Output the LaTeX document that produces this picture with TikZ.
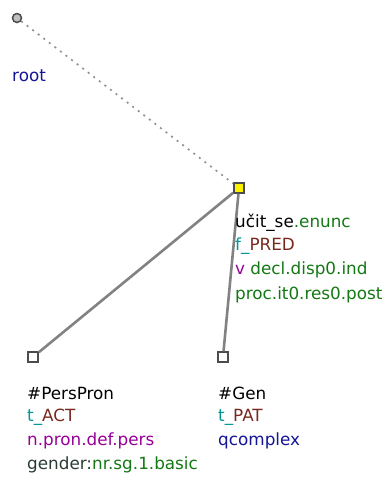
\documentclass[tikz,border=0pt]{standalone}
\usepackage{fontspec}
\setmainfont{DejaVu Sans}
\definecolor{cteal}{RGB}{0,150,150}
\definecolor{cbrown}{RGB}{120,40,30}
\definecolor{cpurple}{RGB}{150,0,150}
\definecolor{cgreen}{RGB}{20,120,20}
\definecolor{cblue}{RGB}{20,20,150}
\definecolor{cdark}{RGB}{40,60,50}
\definecolor{cedge}{RGB}{130,130,130}
\begin{document}
\begin{tikzpicture}[x=1pt,y=-1pt,
  lbl/.style={anchor=west,inner sep=0pt,font=\fontsize{16.8}{18}\selectfont},
  sq/.style={draw=black!70,line width=1.5pt,minimum size=10pt,inner sep=0pt,fill=white},
  edge/.style={draw=cedge,line width=2.6pt},
  dotedge/.style={draw=cedge!90,line width=1.6pt,dash pattern=on 2pt off 5pt}]
\useasboundingbox (0,0) rectangle (385,477);
\node[circle,draw=black!70,fill=black!25,line width=1.5pt,minimum size=9pt,inner sep=0pt] (root) at (17,18) {};
\node[sq,fill=yellow] (pred) at (239,188) {};
\node[sq] (act) at (33,357) {};
\node[sq] (pat) at (223,357) {};
\draw[dotedge] (root) -- (pred);
\draw[edge] (pred) -- (act);
\draw[edge] (pred) -- (pat);
\node[lbl,text=cblue] (rootl) at (12,76) {root};
\node[lbl] (p1) at (235,223) {u\v{c}it\_se\textcolor{cgreen}{.enunc}};
\node[lbl] (p2) at (235,246) {\textcolor{cteal}{f\_}\textcolor{cbrown}{PRED}};
\node[lbl] (p3) at (235,270) {\textcolor{cpurple}{v} \textcolor{cgreen}{decl.disp0.ind}};
\node[lbl,text=cgreen] (p4) at (235,295) {proc.it0.res0.post};
\node[lbl] (a1) at (27,393) {\#PersPron};
\node[lbl] (a2) at (27,417) {\textcolor{cteal}{t\_}\textcolor{cbrown}{ACT}};
\node[lbl,text=cpurple] (a3) at (27,441) {n.pron.def.pers};
\node[lbl] (a4) at (27,465) {\textcolor{cdark}{gender:}\textcolor{cgreen}{nr.sg.1.basic}};
\node[lbl] (b1) at (218,393) {\#Gen};
\node[lbl] (b2) at (218,417) {\textcolor{cteal}{t\_}\textcolor{cbrown}{PAT}};
\node[lbl,text=cblue] (b3) at (218,441) {qcomplex};
\end{tikzpicture}
\end{document}
